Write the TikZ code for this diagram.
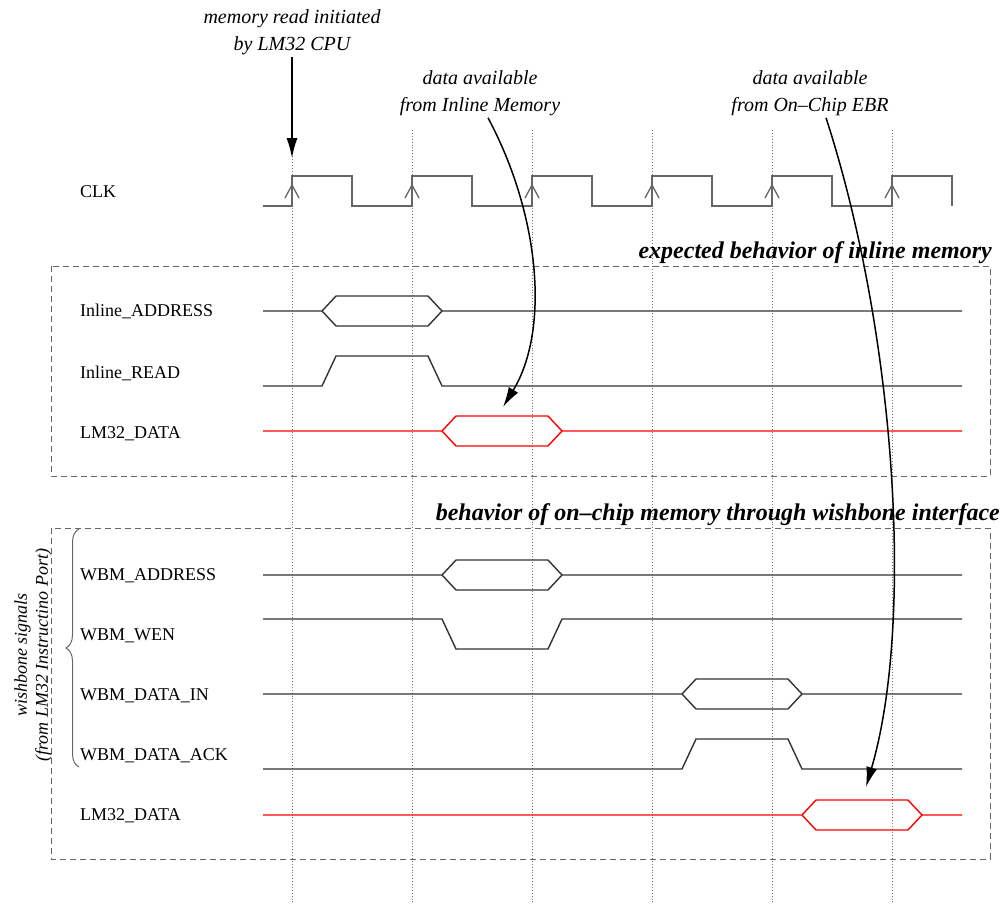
\documentclass[tikz,border=0pt]{standalone}
\usepackage{fontspec}
\setmainfont{Liberation Serif}
\usetikzlibrary{arrows.meta,decorations.pathreplacing}
\begin{document}
\begin{tikzpicture}[x=1pt,y=-1pt,>=stealth,
    sig/.style={line width=1.4pt, black!80},
    reddata/.style={line width=1.4pt, red},
    clk/.style={line width=1.3pt, black!60},
    tick/.style={dotted, line width=0.9pt, black!55},
    frame/.style={dash pattern=on 6pt off 4pt, line width=1pt, black!60},
    signame/.style={anchor=west, inner sep=0pt, font=\fontsize{18}{20}\selectfont},
    boxtitle/.style={anchor=base east, inner sep=0pt, font=\fontsize{24}{26}\selectfont\bfseries\itshape},
    note/.style={align=center, inner sep=2pt, font=\fontsize{20}{27}\selectfont\itshape},
    pointer/.style={-{Latex[length=20pt,width=11pt]}, line width=1.5pt}]
  \useasboundingbox (0,0) rectangle (1007,903);
  % 1) Dotted time marks at each rising clock edge
  \foreach \t in {292,412,532,652,772,892}
    \draw[tick] (\t,130) -- (\t,903);
  % 2) Clock with its edge marks
  \node[signame] (clklabel) at (80,192) {CLK};
  \draw[clk] (263,206) foreach \t in {292,412,532,652,772,892}
    { -- (\t,206) -- (\t,176) -- (\t+60,176) -- (\t+60,206) };
  \foreach \t in {292,412,532,652,772,892}
    \draw[clk] (\t-7,198) -- (\t,185) -- (\t+7,198);
  % 3) Inline memory block
  \draw[frame] (51,266) rectangle (990,476);
  \node[boxtitle] (inlinetitle) at (992,258) {expected behavior of inline memory};
  \node[signame] (inaddr) at (80,311) {Inline\_ADDRESS};
  \draw[sig] (263,311) -- (322,311) -- (336,296) -- (428,296) -- (442,311) -- (962,311);
  \draw[sig] (322,311) -- (336,326) -- (428,326) -- (442,311);
  \node[signame] (inread) at (80,373) {Inline\_READ};
  \draw[sig] (263,386) -- (322,386) -- (336,356) -- (428,356) -- (442,386) -- (962,386);
  \node[signame] (indata) at (80,434) {LM32\_DATA};
  \draw[reddata] (263,431) -- (442,431) -- (456,416) -- (548,416) -- (562,431) -- (962,431);
  \draw[reddata] (442,431) -- (456,446) -- (548,446) -- (562,431);
  % 4) Wishbone block
  \draw[frame] (51,528) rectangle (990,859);
  \node[boxtitle] (wbtitle) at (1000,520) {behavior of on\textendash chip memory through wishbone interface};
  \node[signame] (wbaddr) at (80,576) {WBM\_ADDRESS};
  \draw[sig] (263,575) -- (442,575) -- (456,560) -- (548,560) -- (562,575) -- (962,575);
  \draw[sig] (442,575) -- (456,590) -- (548,590) -- (562,575);
  \node[signame] (wbwen) at (80,636) {WBM\_WEN};
  \draw[sig] (263,619) -- (442,619) -- (456,649) -- (548,649) -- (562,619) -- (962,619);
  \node[signame] (wbdin) at (80,696) {WBM\_DATA\_IN};
  \draw[sig] (263,694) -- (682,694) -- (696,679) -- (788,679) -- (802,694) -- (962,694);
  \draw[sig] (682,694) -- (696,709) -- (788,709) -- (802,694);
  \node[signame] (wback) at (80,756) {WBM\_DATA\_ACK};
  \draw[sig] (263,769) -- (682,769) -- (696,739) -- (788,739) -- (802,769) -- (962,769);
  \node[signame] (wbdata) at (80,816) {LM32\_DATA};
  \draw[reddata] (263,815) -- (802,815) -- (816,800) -- (908,800) -- (922,815) -- (962,815);
  \draw[reddata] (802,815) -- (816,830) -- (908,830) -- (922,815);
  % 5) Brace grouping the wishbone signals
  \draw[black!60, line width=1pt, decorate, decoration={brace, amplitude=13pt}]
    (79,767) -- (79,529) coordinate[midway] (bracetip);
  \node[rotate=90, align=center, font=\fontsize{18}{21}\selectfont\itshape] (wblabel) at (33,655)
    {wishbone signals\\(from LM32 Instructino Port)};
  % 6) Annotations with their pointers
  \node[note] (cpunote) at (292,32) {memory read initiated\\by LM32 CPU};
  \coordinate (cpuhit) at (292,158);
  \draw[pointer] (cpunote) -- (cpuhit);
  \node[note] (inlinenote) at (480,93) {data available\\from Inline Memory};
  \coordinate (inlinehit) at (503,407);
  \draw[pointer] ([xshift=8pt]inlinenote.south) .. controls (540,215) and (550,330) .. (inlinehit);
  \node[note] (ebrnote) at (810,93) {data available\\from On\textendash Chip EBR};
  \coordinate (ebrhit) at (866,787);
  \draw[pointer] ([xshift=16pt]ebrnote.south) .. controls (895,330) and (915,620) .. (ebrhit);
\end{tikzpicture}
\end{document}
